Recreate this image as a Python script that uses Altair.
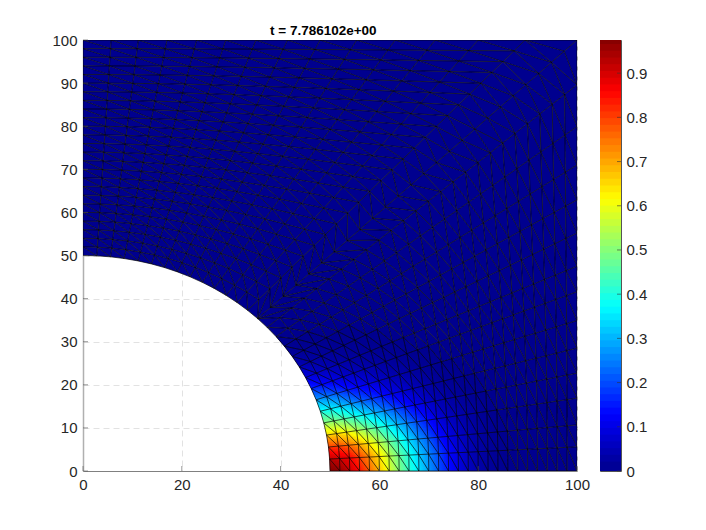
import math

import altair as alt
import pandas as pd

alt.data_transformers.disable_max_rows()

TITLE = "t = 7.786102e+00"
XY_TICKS = [0, 20, 40, 60, 80, 100]
Y_TICKS = [0, 10, 20, 30, 40, 50, 60, 70, 80, 90, 100]
CB_TICKS = [0, 0.1, 0.2, 0.3, 0.4, 0.5, 0.6, 0.7, 0.8, 0.9]
VMAX = 0.975
RADIUS = 50
SPLIT_SECTOR = 14

ARC_DEG = [0, 3.2, 6.4, 9.6, 12.9, 16.1, 19.3, 22.5, 25.7, 28.9, 32.1, 35.4, 38.6, 41.8, 45,
           48.2, 51.4, 54.6, 57.9, 61.1, 64.3, 67.5, 70.7, 73.9, 77.1, 80.4, 83.6, 86.8, 90]
EDGE_X = [100] * 15 + [89.5, 80, 71.3, 63.2, 55.4, 48, 41.4, 35, 28.9, 23, 17, 11.2, 5.7, 0]
EDGE_Y = [0, 5.6, 10.7, 16.9, 22.7, 28.5, 34.9, 41.6, 47.5, 55.2, 62.9, 71, 79.9, 89.6, 100] + [100] * 14
RINGS = [0, .04, .08, .12, .16, .2, .24, .28, .32, .36, .4, .44, .48, .52, .56, .6, .64, .68, .72,
         .76, .8, .84, .88, .92, .96, 1]

# field values: rows = rings, columns = sectors from the x axis upward
FIELD = [
    [.975, .92, .80, .65, .50, .38, .27, .16, .09, .05, .02, .005],
    [.96, .90, .79, .64, .49, .36, .24, .13, .06, .025, .005],
    [.91, .87, .75, .61, .45, .32, .20, .10, .045, .015, .002],
    [.84, .80, .70, .55, .40, .27, .15, .07, .03, .008],
    [.76, .72, .63, .49, .35, .22, .12, .05, .02, .004],
    [.67, .64, .56, .43, .30, .18, .09, .035, .012, .002],
    [.58, .55, .48, .37, .25, .14, .065, .025, .007],
    [.49, .47, .41, .31, .20, .10, .045, .015, .003],
    [.41, .39, .34, .25, .15, .075, .03, .008],
    [.34, .32, .27, .19, .11, .05, .018, .003],
    [.27, .255, .21, .14, .075, .03, .01],
    [.20, .19, .145, .09, .045, .017, .003],
    [.14, .13, .10, .055, .028, .008],
    [.09, .085, .065, .038, .016, .004],
    [.055, .05, .04, .024, .008],
    [.03, .028, .02, .012, .003],
    [.015, .014, .01, .004],
    [.007, .006, .003],
]

JET_DOMAIN = [0, .1219, .3656, .6094, .8531, VMAX]
JET_RANGE = ["#00008F", "#0000FF", "#00FFFF", "#FFFF00", "#FF0000", "#800000"]
TEXT = "#262626"
FONT = "Liberation Sans"
PLOT_W, PLOT_H = 494, 431


def node(i, j):
    a = math.radians(ARC_DEG[j])
    ax, ay = RADIUS * math.cos(a), RADIUS * math.sin(a)
    s = RINGS[i]
    return ax + s * (EDGE_X[j] - ax), ay + s * (EDGE_Y[j] - ay)


def val(i, j):
    if i < len(FIELD) and j < len(FIELD[i]):
        return FIELD[i][j]
    return 0.0


LAST_RING = len(RINGS) - 1
tris = []
for j in range(len(ARC_DEG) - 1):
    if j == SPLIT_SECTOR - 1 or j == SPLIT_SECTOR:
        # the two sectors beside the diagonal: their lines leave it one ring further out
        d = SPLIT_SECTOR
        o = j if j == SPLIT_SECTOR - 1 else j + 1
        tris.append([(0, o), (1, o), (0, d)])
        for i in range(LAST_RING - 1):
            tris.append([(i, d), (i + 1, o), (i + 2, o)])
            tris.append([(i, d), (i + 1, d), (i + 2, o)])
        tris.append([(LAST_RING - 1, d), (LAST_RING, o), (LAST_RING, d)])
        continue
    for i in range(LAST_RING):
        if j < SPLIT_SECTOR:
            tris.append([(i, j), (i + 1, j), (i, j + 1)])
            tris.append([(i + 1, j), (i + 1, j + 1), (i, j + 1)])
        else:
            tris.append([(i, j), (i + 1, j), (i + 1, j + 1)])
            tris.append([(i, j), (i + 1, j + 1), (i, j + 1)])

edges = set()
under_rows, fill_rows, mesh_rows = [], [], []
pid = 0
for t, tri in enumerate(tris):
    pts = [node(*p) for p in tri]
    vals = [val(*p) for p in tri]
    for a, b in ((0, 1), (1, 2), (2, 0)):
        edges.add(tuple(sorted((tri[a], tri[b]))))
    for k, p in enumerate(pts):
        under_rows.append({"x": round(p[0], 2), "y": round(p[1], 2), "p": t, "o": k,
                           "v": round(sum(vals) / 3, 4)})
    if max(vals) == 0:
        continue
    n = 5
    for a in range(n):
        for b in range(n - a):
            subs = [[(a, b), (a + 1, b), (a, b + 1)]]
            if a + b < n - 1:
                subs.append([(a + 1, b), (a + 1, b + 1), (a, b + 1)])
            for sub in subs:
                corners, vs = [], []
                for (u, w) in sub:
                    c = n - u - w
                    corners.append(((u * pts[0][0] + w * pts[1][0] + c * pts[2][0]) / n,
                                    (u * pts[0][1] + w * pts[1][1] + c * pts[2][1]) / n))
                    vs.append((u * vals[0] + w * vals[1] + c * vals[2]) / n)
                v = round(sum(vs) / 3, 4)
                for k, p in enumerate(corners):
                    fill_rows.append({"x": round(p[0], 2), "y": round(p[1], 2), "p": pid, "o": k, "v": v})
                pid += 1

for e, (p, q) in enumerate(sorted(edges)):
    for k, nd in enumerate((p, q)):
        xy = node(*nd)
        mesh_rows.append({"x": round(xy[0], 2), "y": round(xy[1], 2), "t": e, "o": k})

x_scale = alt.Scale(domain=[0, 100], nice=False)
y_scale = alt.Scale(domain=[0, 100], nice=False)
color_scale = alt.Scale(domain=JET_DOMAIN, range=JET_RANGE, interpolate="rgb", clamp=True)

axis_common = dict(title=None, labelFont=FONT, labelFontSize=15, labelColor=TEXT, ticks=False,
                   grid=True, gridColor="#e2e2e2", gridDash=[6, 4], gridWidth=1, zindex=0, labelPadding=6,
                   labelFlush=False, labelOverlap=False)


def poly_layer(rows, **axes):
    return alt.Chart(pd.DataFrame(rows)).mark_line(clip=True, strokeWidth=0).encode(
        x=alt.X("x:Q", scale=x_scale, **axes.get("x", {})),
        y=alt.Y("y:Q", scale=y_scale, **axes.get("y", {})),
        detail="p:N",
        order="o:Q",
        fill=alt.Fill("v:Q", scale=color_scale, legend=None),
    )


under_layer = poly_layer(
    under_rows,
    x={"axis": alt.Axis(values=XY_TICKS, domainColor="#808080", **axis_common)},
    y={"axis": alt.Axis(values=Y_TICKS, domainColor="#b0b0b0", domainWidth=1.5, **axis_common)},
)
fill_layer = poly_layer(fill_rows)

mesh_layer = alt.Chart(pd.DataFrame(mesh_rows)).mark_line(
    clip=True, color="black", strokeWidth=0.68
).encode(
    x=alt.X("x:Q", scale=x_scale),
    y=alt.Y("y:Q", scale=y_scale),
    detail="t:N",
    order="o:Q",
)

x_ticks = alt.Chart(pd.DataFrame({"t": XY_TICKS})).mark_rule(color="#555555", strokeWidth=0.6).encode(
    x=alt.X("t:Q", scale=x_scale), y=alt.value(PLOT_H), y2=alt.value(PLOT_H - 5),
)
y_ticks = alt.Chart(pd.DataFrame({"t": Y_TICKS})).mark_rule(color="#555555", strokeWidth=0.6).encode(
    y=alt.Y("t:Q", scale=y_scale), x=alt.value(0), x2=alt.value(5),
)

main = alt.layer(under_layer, fill_layer, mesh_layer, x_ticks, y_ticks).properties(
    width=PLOT_W, height=PLOT_H,
    title=alt.TitleParams(TITLE, font=FONT, fontSize=13.5, fontWeight="bold", color="#000000",
                          anchor="start", frame="group", dx=187, dy=6, offset=2),
    view=alt.ViewConfig(stroke="#aaaaaa"),
)

levels = [VMAX * k / 64 for k in range(64)]
band = pd.DataFrame({"lo": levels, "hi": [l + 1.4 * VMAX / 64 for l in levels], "v": [l + VMAX / 128 for l in levels]})
cb_scale = alt.Scale(domain=[0, VMAX], nice=False)

cb_rect = alt.Chart(band).mark_rect(clip=True).encode(
    y=alt.Y("lo:Q", scale=cb_scale, axis=alt.Axis(orient="right", values=CB_TICKS, format=".1~f", title=None,
                                                  labelFont=FONT, labelFontSize=15, labelColor=TEXT, ticks=False,
                                                  domain=False, grid=False, labelPadding=5, labelFlush=False,
                                                  labelOverlap=False)),
    y2="hi:Q",
    fill=alt.Fill("v:Q", scale=color_scale, legend=None),
    order=alt.Order("lo:Q", sort="descending"),
)
cb_ticks = alt.Chart(pd.DataFrame({"t": CB_TICKS})).mark_rule(color="#333333", strokeWidth=0.6).encode(
    y=alt.Y("t:Q", scale=cb_scale),
    x=alt.value(17), x2=alt.value(21),
)
colorbar = alt.layer(cb_rect, cb_ticks).properties(width=21, height=PLOT_H, view=alt.ViewConfig(stroke="#555555"))

chart = alt.hconcat(main, colorbar, spacing=8).resolve_scale(fill="independent").properties(
    padding={"left": 43, "top": 15, "right": 5, "bottom": 5},
    background="white",
)

chart.save("out.html", embed_options={"renderer": "svg", "actions": False})
